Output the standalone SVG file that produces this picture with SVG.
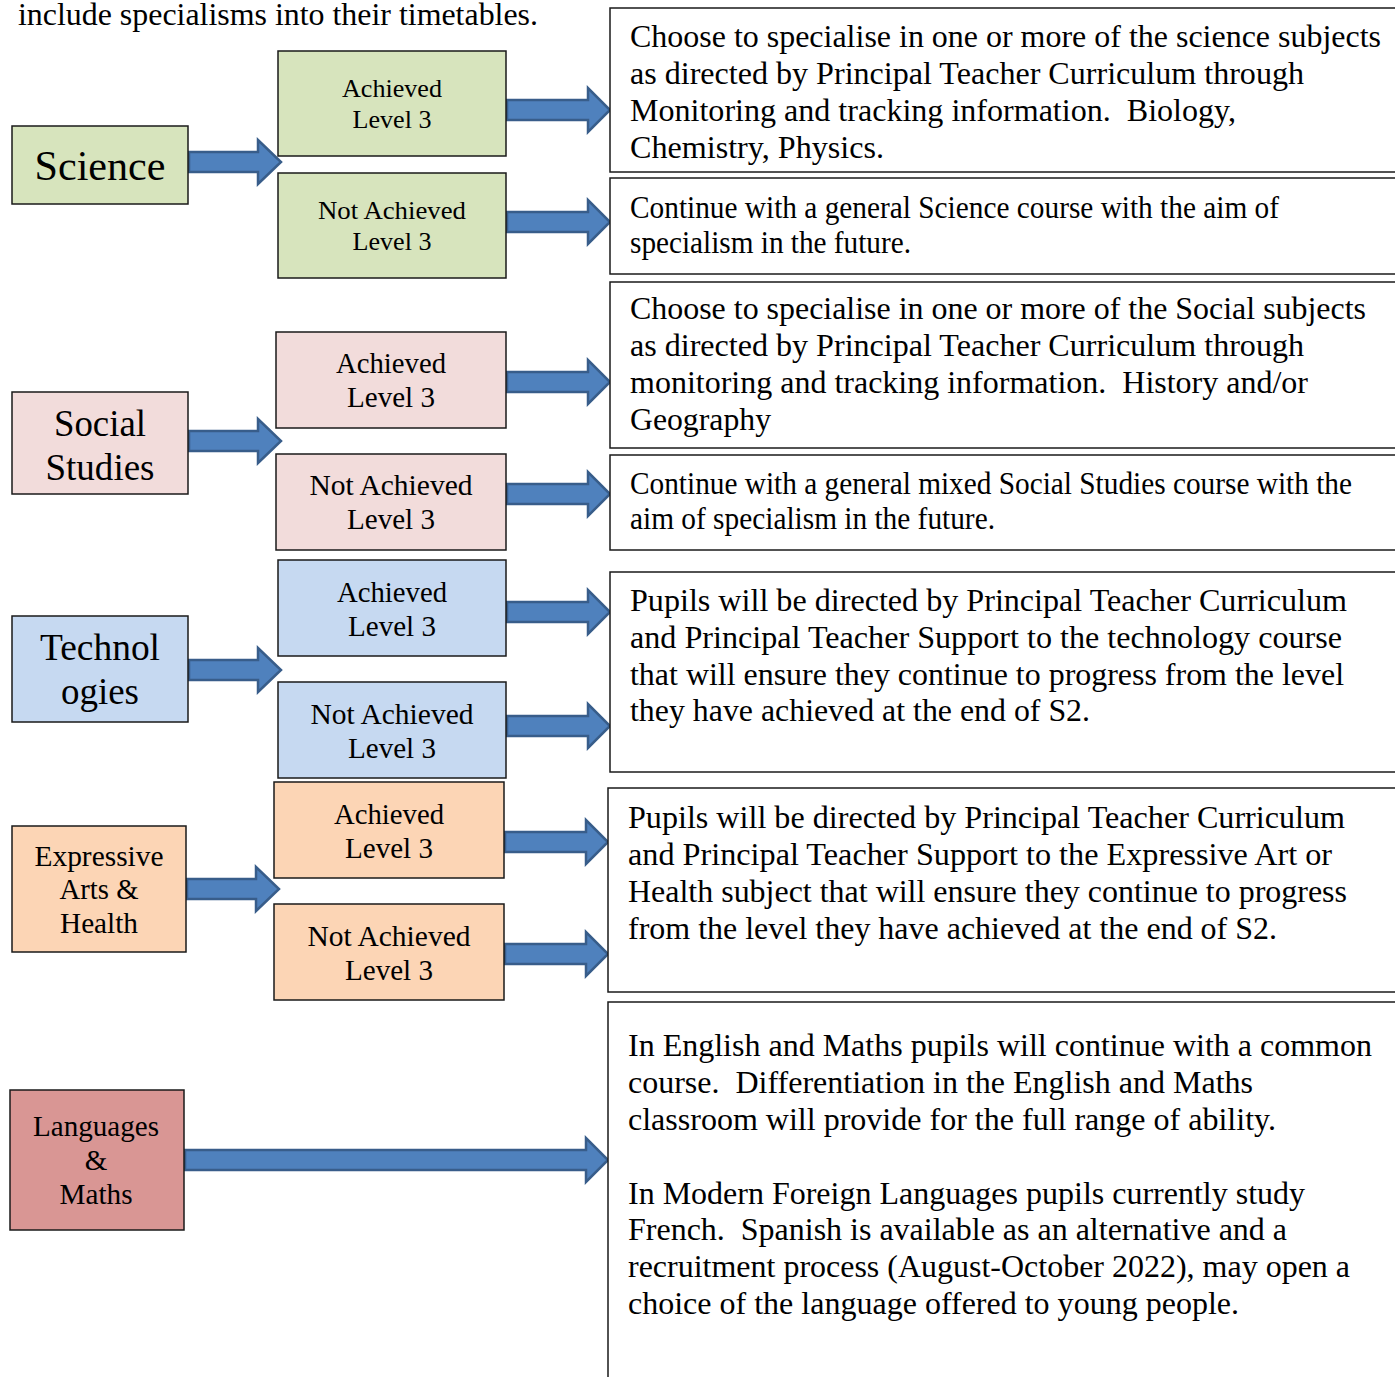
<svg xmlns="http://www.w3.org/2000/svg" width="1395" height="1377" viewBox="0 0 1395 1377" font-family="'Liberation Serif', 'Times New Roman', serif">
<style>
text{font-family:'Liberation Serif','Times New Roman',serif;fill:#000}
.box{stroke:#1a1a1a;stroke-width:1.5}
.green{fill:#d7e4bd}.pink{fill:#f2dcdb}.blue{fill:#c6d9f1}.peach{fill:#fcd5b5}.red{fill:#d99694}
.desc{fill:#fff;stroke:#1a1a1a;stroke-width:1.5}
.arrow{fill:#4f81bd;stroke:#385d8a;stroke-width:2.5;stroke-linejoin:miter}
.c{text-anchor:middle}
.lvl{font-size:28.5px}
.body{font-size:32px}
</style>
<rect width="1395" height="1377" fill="#fff"/>
<text x="18" y="25" font-size="32" textLength="520" lengthAdjust="spacingAndGlyphs">include specialisms into their timetables.</text>

<g id="connectors">
<path class="arrow" d="M189 152H258V140L281 162L258 184V172H189Z"/>
<path class="arrow" d="M507 100H588V88L610 110L588 132V120H507Z"/>
<path class="arrow" d="M507 212H588V200L610 222L588 244V232H507Z"/>
<path class="arrow" d="M189 431H258V419L281 441L258 463V451H189Z"/>
<path class="arrow" d="M507 372H588V360L610 382L588 404V392H507Z"/>
<path class="arrow" d="M507 484H588V472L610 494L588 516V504H507Z"/>
<path class="arrow" d="M189 660H258V648L281 670L258 692V680H189Z"/>
<path class="arrow" d="M507 602H588V590L610 612L588 634V622H507Z"/>
<path class="arrow" d="M507 716H588V704L610 726L588 748V736H507Z"/>
<path class="arrow" d="M187 879H256V867L279 889L256 911V899H187Z"/>
<path class="arrow" d="M505 832H586V820L608 842L586 864V852H505Z"/>
<path class="arrow" d="M505 944H586V932L608 954L586 976V964H505Z"/>
<path class="arrow" d="M185 1150H586V1138L608 1160L586 1182V1170H185Z"/>
</g>

<g id="science">
<rect class="box green" x="12" y="126" width="176" height="78"/>
<text class="c" x="100" y="180" font-size="42" textLength="131" lengthAdjust="spacingAndGlyphs">Science</text>
</g>
<g id="science-achieved">
<rect class="box green" x="278" y="51" width="228" height="105"/>
<text class="c" x="392" y="97" font-size="26" textLength="100" lengthAdjust="spacingAndGlyphs">Achieved</text>
<text class="c" x="392" y="128" font-size="26" textLength="79" lengthAdjust="spacingAndGlyphs">Level 3</text>
</g>
<g id="science-not-achieved">
<rect class="box green" x="278" y="173" width="228" height="105"/>
<text class="c" x="392" y="219" font-size="26" textLength="148" lengthAdjust="spacingAndGlyphs">Not Achieved</text>
<text class="c" x="392" y="250" font-size="26" textLength="79" lengthAdjust="spacingAndGlyphs">Level 3</text>
</g>
<g id="science-specialise">
<rect class="desc" x="610" y="8" width="800" height="164"/>
<text class="body" x="630" y="47" textLength="751" lengthAdjust="spacingAndGlyphs">Choose to specialise in one or more of the science subjects</text>
<text class="body" x="630" y="84" textLength="674" lengthAdjust="spacingAndGlyphs">as directed by Principal Teacher Curriculum through</text>
<text class="body" x="630" y="121" textLength="606" lengthAdjust="spacingAndGlyphs" xml:space="preserve">Monitoring and tracking information.  Biology,</text>
<text class="body" x="630" y="158" textLength="254" lengthAdjust="spacingAndGlyphs">Chemistry, Physics.</text>
</g>
<g id="science-general">
<rect class="desc" x="610" y="178" width="800" height="96"/>
<text class="body" x="630" y="218" textLength="649" lengthAdjust="spacingAndGlyphs">Continue with a general Science course with the aim of</text>
<text class="body" x="630" y="253" textLength="281" lengthAdjust="spacingAndGlyphs">specialism in the future.</text>
</g>

<g id="social">
<rect class="box pink" x="12" y="392" width="176" height="102"/>
<text class="c" x="100" y="436" font-size="37" textLength="92" lengthAdjust="spacingAndGlyphs">Social</text>
<text class="c" x="100" y="480" font-size="37" textLength="109" lengthAdjust="spacingAndGlyphs">Studies</text>
</g>
<g id="social-achieved">
<rect class="box pink" x="276" y="332" width="230" height="96"/>
<text class="c lvl" x="391" y="373" textLength="110" lengthAdjust="spacingAndGlyphs">Achieved</text>
<text class="c lvl" x="391" y="407" textLength="88" lengthAdjust="spacingAndGlyphs">Level 3</text>
</g>
<g id="social-not-achieved">
<rect class="box pink" x="276" y="454" width="230" height="96"/>
<text class="c lvl" x="391" y="495" textLength="163" lengthAdjust="spacingAndGlyphs">Not Achieved</text>
<text class="c lvl" x="391" y="529" textLength="88" lengthAdjust="spacingAndGlyphs">Level 3</text>
</g>
<g id="social-specialise">
<rect class="desc" x="610" y="282" width="800" height="166"/>
<text class="body" x="630" y="319" textLength="736" lengthAdjust="spacingAndGlyphs">Choose to specialise in one or more of the Social subjects</text>
<text class="body" x="630" y="356" textLength="674" lengthAdjust="spacingAndGlyphs">as directed by Principal Teacher Curriculum through</text>
<text class="body" x="630" y="393" textLength="678" lengthAdjust="spacingAndGlyphs" xml:space="preserve">monitoring and tracking information.  History and/or</text>
<text class="body" x="630" y="430" textLength="141" lengthAdjust="spacingAndGlyphs">Geography</text>
</g>
<g id="social-general">
<rect class="desc" x="610" y="455" width="800" height="95"/>
<text class="body" x="630" y="494" textLength="722" lengthAdjust="spacingAndGlyphs">Continue with a general mixed Social Studies course with the</text>
<text class="body" x="630" y="529" textLength="365" lengthAdjust="spacingAndGlyphs">aim of specialism in the future.</text>
</g>

<g id="technologies">
<rect class="box blue" x="12" y="616" width="176" height="106"/>
<text class="c" x="100" y="660" font-size="37" textLength="120" lengthAdjust="spacingAndGlyphs">Technol</text>
<text class="c" x="100" y="704" font-size="37" textLength="78" lengthAdjust="spacingAndGlyphs">ogies</text>
</g>
<g id="tech-achieved">
<rect class="box blue" x="278" y="560" width="228" height="96"/>
<text class="c lvl" x="392" y="602" textLength="110" lengthAdjust="spacingAndGlyphs">Achieved</text>
<text class="c lvl" x="392" y="636" textLength="88" lengthAdjust="spacingAndGlyphs">Level 3</text>
</g>
<g id="tech-not-achieved">
<rect class="box blue" x="278" y="682" width="228" height="96"/>
<text class="c lvl" x="392" y="724" textLength="163" lengthAdjust="spacingAndGlyphs">Not Achieved</text>
<text class="c lvl" x="392" y="758" textLength="88" lengthAdjust="spacingAndGlyphs">Level 3</text>
</g>
<g id="tech-direction">
<rect class="desc" x="610" y="572" width="800" height="200"/>
<text class="body" x="630" y="611" textLength="717" lengthAdjust="spacingAndGlyphs">Pupils will be directed by Principal Teacher Curriculum</text>
<text class="body" x="630" y="648" textLength="712" lengthAdjust="spacingAndGlyphs">and Principal Teacher Support to the technology course</text>
<text class="body" x="630" y="685" textLength="714" lengthAdjust="spacingAndGlyphs">that will ensure they continue to progress from the level</text>
<text class="body" x="630" y="721" textLength="460" lengthAdjust="spacingAndGlyphs">they have achieved at the end of S2.</text>
</g>

<g id="expressive">
<rect class="box peach" x="12" y="826" width="174" height="126"/>
<text class="c" x="99" y="866" font-size="29" textLength="129" lengthAdjust="spacingAndGlyphs">Expressive</text>
<text class="c" x="99" y="899" font-size="29" textLength="79" lengthAdjust="spacingAndGlyphs">Arts &amp;</text>
<text class="c" x="99" y="933" font-size="29" textLength="78" lengthAdjust="spacingAndGlyphs">Health</text>
</g>
<g id="expr-achieved">
<rect class="box peach" x="274" y="782" width="230" height="96"/>
<text class="c lvl" x="389" y="824" textLength="110" lengthAdjust="spacingAndGlyphs">Achieved</text>
<text class="c lvl" x="389" y="858" textLength="88" lengthAdjust="spacingAndGlyphs">Level 3</text>
</g>
<g id="expr-not-achieved">
<rect class="box peach" x="274" y="904" width="230" height="96"/>
<text class="c lvl" x="389" y="946" textLength="163" lengthAdjust="spacingAndGlyphs">Not Achieved</text>
<text class="c lvl" x="389" y="980" textLength="88" lengthAdjust="spacingAndGlyphs">Level 3</text>
</g>
<g id="expr-direction">
<rect class="desc" x="608" y="788" width="800" height="204"/>
<text class="body" x="628" y="828" textLength="717" lengthAdjust="spacingAndGlyphs">Pupils will be directed by Principal Teacher Curriculum</text>
<text class="body" x="628" y="865" textLength="704" lengthAdjust="spacingAndGlyphs">and Principal Teacher Support to the Expressive Art or</text>
<text class="body" x="628" y="902" textLength="719" lengthAdjust="spacingAndGlyphs">Health subject that will ensure they continue to progress</text>
<text class="body" x="628" y="939" textLength="649" lengthAdjust="spacingAndGlyphs">from the level they have achieved at the end of S2.</text>
</g>

<g id="languages">
<rect class="box red" x="10" y="1090" width="174" height="140"/>
<text class="c" x="96" y="1136" font-size="29" textLength="126" lengthAdjust="spacingAndGlyphs">Languages</text>
<text class="c" x="96" y="1170" font-size="29">&amp;</text>
<text class="c" x="96" y="1204" font-size="29" textLength="73" lengthAdjust="spacingAndGlyphs">Maths</text>
</g>
<g id="languages-course">
<rect class="desc" x="608" y="1002" width="800" height="400"/>
<text class="body" x="628" y="1056" textLength="744" lengthAdjust="spacingAndGlyphs">In English and Maths pupils will continue with a common</text>
<text class="body" x="628" y="1093" textLength="625" lengthAdjust="spacingAndGlyphs" xml:space="preserve">course.  Differentiation in the English and Maths</text>
<text class="body" x="628" y="1130" textLength="648" lengthAdjust="spacingAndGlyphs">classroom will provide for the full range of ability.</text>
<text class="body" x="628" y="1204" textLength="677" lengthAdjust="spacingAndGlyphs">In Modern Foreign Languages pupils currently study</text>
<text class="body" x="628" y="1240" textLength="659" lengthAdjust="spacingAndGlyphs" xml:space="preserve">French.  Spanish is available as an alternative and a</text>
<text class="body" x="628" y="1277" textLength="722" lengthAdjust="spacingAndGlyphs">recruitment process (August-October 2022), may open a</text>
<text class="body" x="628" y="1314" textLength="611" lengthAdjust="spacingAndGlyphs">choice of the language offered to young people.</text>
</g>
</svg>
